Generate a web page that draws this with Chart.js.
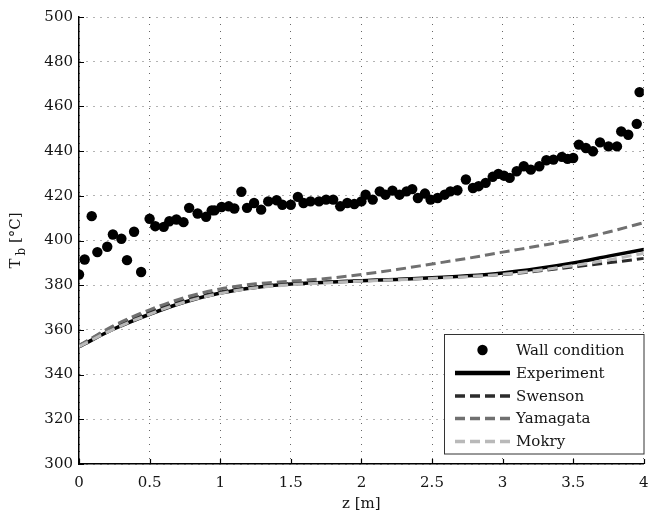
<!DOCTYPE html>
<html>
<head>
<meta charset="utf-8">
<script src="https://cdn.jsdelivr.net/npm/chart.js@4/dist/chart.umd.min.js"></script>
<style>
  html, body { margin: 0; padding: 0; background: #fff; }
  #wrap { width: 649px; height: 514px; position: relative; }
</style>
</head>
<body>
<div id="wrap"><canvas id="c" width="649" height="514"></canvas></div>
<script>
// Bulk temperature along the heated length
const wallZ = [0.00,0.04,0.09,0.13,0.20,0.24,0.30,0.34,0.39,0.44,0.50,0.54,0.60,0.64,0.69,0.74,0.78,0.84,0.90,0.94,
  0.96,1.01,1.06,1.10,1.15,1.19,1.24,1.29,1.34,1.40,1.44,1.50,1.55,1.59,1.64,1.70,1.75,1.80,1.85,1.90,1.95,
  2.00,2.03,2.08,2.13,2.17,2.22,2.27,2.32,2.36,2.40,2.45,2.49,2.54,2.59,2.63,2.68,2.74,2.79,2.83,2.88,2.93,2.97,
  3.01,3.05,3.10,3.15,3.20,3.26,3.31,3.36,3.42,3.46,3.50,3.54,3.59,3.64,3.69,3.75,3.81,3.84,3.89,3.95,3.97];
const wallT = [384.8,391.5,410.9,394.8,397.2,402.7,400.8,391.2,403.9,385.9,409.7,406.4,406.1,408.6,409.4,408.2,414.6,412.1,410.6,413.5,
  413.5,415.0,415.3,414.3,421.8,414.6,416.8,413.8,417.5,418.0,416.0,416.0,419.5,416.8,417.5,417.5,418.3,418.3,415.3,416.8,416.3,
  417.5,420.5,418.3,422.0,420.5,422.3,420.5,422.0,423.0,419.0,421.0,418.3,419.0,420.5,422.0,422.5,427.3,423.5,424.3,425.8,428.5,429.8,
  429.0,428.0,431.0,433.2,431.7,433.2,435.9,436.2,437.4,436.5,436.9,442.9,441.4,439.9,443.9,442.1,442.1,448.8,447.3,452.2,466.4];

const lineZ      = [0,0.25,0.5,0.75,1,1.25,1.5,1.75,2,2.25,2.5,2.75,3,3.25,3.5,3.75,4];
const experiment = [352.5,360.5,367.0,372.5,376.5,379.0,380.5,381.3,382.0,382.6,383.3,384.2,385.5,387.5,390.0,393.0,396.0];
const swenson    = [353.0,361.5,368.0,373.3,377.0,379.3,380.7,381.4,382.0,382.6,383.2,383.9,384.8,386.3,388.2,390.0,392.0];
const yamagata   = [353.0,362.0,369.0,374.5,378.3,380.6,381.8,383.0,384.8,387.0,389.5,392.0,394.8,397.5,400.3,403.8,408.0];
const mokry      = [352.5,360.5,367.0,372.5,376.3,378.8,380.2,381.0,381.8,382.4,383.0,383.8,384.9,386.6,388.8,391.3,394.3];

const xTicks = { min: 0, max: 4, step: 0.5 };
const yTicks = { min: 300, max: 500, step: 20 };

const FONT = "'DejaVu Serif', serif";
const TEXT = '#151515';
const pts = (xs, ys) => xs.map((x, i) => ({ x: x, y: ys[i] }));

const datasets = [
  { label: 'Wall condition', type: 'scatter', data: pts(wallZ, wallT), order: 0,
    pointRadius: 5.2, pointBackgroundColor: '#000', pointBorderColor: '#000', pointBorderWidth: 0, showLine: false },
  { label: 'Experiment', data: pts(lineZ, experiment), order: 4,
    borderColor: '#000', borderWidth: 3.5 },
  { label: 'Swenson', data: pts(lineZ, swenson), order: 3,
    borderColor: '#2b2b2b', borderWidth: 3, borderDash: [10, 5] },
  { label: 'Yamagata', data: pts(lineZ, yamagata), order: 2,
    borderColor: '#707070', borderWidth: 3, borderDash: [10, 5] },
  { label: 'Mokry', data: pts(lineZ, mokry), order: 1,
    borderColor: '#b9b9b9', borderWidth: 3, borderDash: [10, 5] }
];
datasets.forEach(d => {
  if (d.type !== 'scatter') {
    d.type = 'line';
    d.pointRadius = 0;
    d.fill = false;
    d.cubicInterpolationMode = 'monotone';
  }
});

// Inward tick marks, rotated y title with subscript, and the boxed legend
const decorations = {
  id: 'decorations',
  afterDraw(chart) {
    const { ctx, chartArea: a, scales: { x, y } } = chart;
    ctx.save();
    ctx.strokeStyle = '#000';
    ctx.lineWidth = 1.2;
    ctx.beginPath();
    x.ticks.forEach(t => {
      const px = Math.round(x.getPixelForValue(t.value)) + 0.5;
      ctx.moveTo(px, a.bottom); ctx.lineTo(px, a.bottom - 5);
    });
    y.ticks.forEach(t => {
      const py = Math.round(y.getPixelForValue(t.value)) + 0.5;
      ctx.moveTo(a.left, py); ctx.lineTo(a.left + 5, py);
    });
    ctx.stroke();

    // y axis title: T_b [°C]
    ctx.translate(20, (a.top + a.bottom) / 2);
    ctx.rotate(-Math.PI / 2);
    ctx.fillStyle = TEXT;
    ctx.textBaseline = 'alphabetic';
    ctx.font = '15px ' + FONT;
    const wT = ctx.measureText('T').width;
    ctx.font = '12px ' + FONT;
    const wb = ctx.measureText('b').width;
    ctx.font = '15px ' + FONT;
    const wRest = ctx.measureText(' [°C]').width;
    let sx = -(wT + 3 + wb + wRest) / 2;
    ctx.fillText('T', sx, 0);
    ctx.font = '12px ' + FONT;
    ctx.fillText('b', sx + wT + 3, 5);
    ctx.font = '15px ' + FONT;
    ctx.fillText(' [°C]', sx + wT + 3 + wb, 0);
    ctx.restore();

    // legend box
    ctx.save();
    const bx = 444.5, by = 334.5, bw = Math.round(a.right) - 444.5, bh = 119.5;
    ctx.fillStyle = '#fff';
    ctx.fillRect(bx, by, bw, bh);
    ctx.strokeStyle = '#333';
    ctx.lineWidth = 1;
    ctx.strokeRect(bx, by, bw, bh);
    const rows = [350, 373, 396, 418.5, 441.5];
    ctx.font = '15px ' + FONT;
    ctx.textBaseline = 'middle';
    datasets.forEach((d, i) => {
      const ry = rows[i];
      if (d.type === 'scatter') {
        ctx.fillStyle = '#000';
        ctx.beginPath();
        ctx.arc(482.5, ry, 5.2, 0, Math.PI * 2);
        ctx.fill();
      } else {
        ctx.strokeStyle = d.borderColor;
        ctx.lineWidth = !d.borderDash ? 4.5 : 3.5;
        ctx.setLineDash(d.borderDash || []);
        ctx.beginPath();
        ctx.moveTo(455, ry); ctx.lineTo(510, ry);
        ctx.stroke();
        ctx.setLineDash([]);
      }
      ctx.fillStyle = TEXT;
      ctx.fillText(d.label, 516, ry + 1);
    });
    ctx.restore();
  }
};

new Chart(document.getElementById('c'), {
  data: { datasets: datasets },
  options: {
    responsive: false,
    animation: false,
    layout: { padding: { top: 17, right: 5, left: 0, bottom: 0 } },
    plugins: { legend: { display: false }, tooltip: { enabled: false } },
    scales: {
      x: {
        type: 'linear', min: xTicks.min, max: xTicks.max,
        ticks: { stepSize: xTicks.step, color: TEXT, font: { family: FONT, size: 15 }, padding: 10, maxRotation: 0,
                 callback: v => String(Math.round(v * 10) / 10) },
        grid: { color: 'rgba(0,0,0,0.6)', lineWidth: 1, drawTicks: false },
        border: { display: true, color: '#000', width: 1.5, dash: [1, 6] },
        title: { display: true, text: 'z [m]', color: TEXT, font: { family: FONT, size: 15 }, padding: { top: 0, bottom: 1 } },
        afterFit(s) { s.height = 50; s.paddingLeft = 0; s.paddingRight = 0; }
      },
      y: {
        type: 'linear', min: yTicks.min, max: yTicks.max,
        ticks: { stepSize: yTicks.step, color: TEXT, font: { family: FONT, size: 15 }, padding: 6 },
        grid: { color: 'rgba(0,0,0,0.6)', lineWidth: 1, drawTicks: false },
        border: { display: true, color: '#000', width: 1.5, dash: [1, 6] },
        afterFit(s) { s.width = 79; s.paddingTop = 0; s.paddingBottom = 0; }
      }
    }
  },
  plugins: [decorations]
});
</script>
</body>
</html>
